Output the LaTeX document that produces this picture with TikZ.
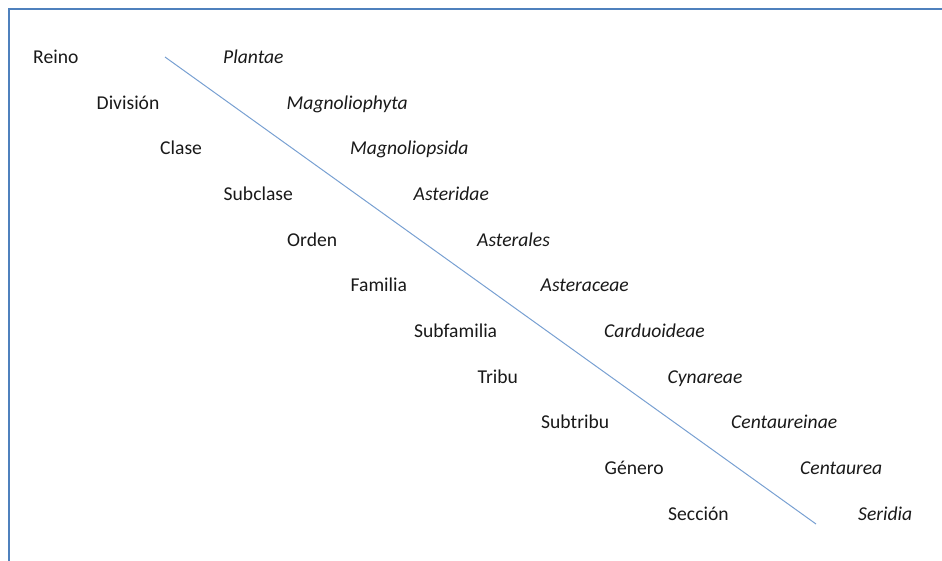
\documentclass[tikz,border=0pt]{standalone}
\usepackage{fontspec}
\setmainfont{Carlito}
\definecolor{framblue}{RGB}{79,129,189}
\definecolor{lineblue}{RGB}{120,160,210}
\tikzset{
  rank/.style={anchor=base west, inner sep=0pt, text=black!90, font=\fontsize{19.6}{23}\selectfont},
  taxon/.style={rank, font=\fontsize{19.6}{23}\selectfont\itshape},
}
\begin{document}
\begin{tikzpicture}[x=1pt,y=-1pt]
\useasboundingbox (0,0) rectangle (942,560);
\draw[framblue, line width=2.2pt] (9,561) -- (9,9) -- (943,9);
\node[rank] (r1) at (33,63) {Reino};
\node[rank] (r2) at (96.5,109) {División};
\node[rank] (r3) at (160,154) {Clase};
\node[rank] (r4) at (223.5,200) {Subclase};
\node[rank] (r5) at (287,246) {Orden};
\node[rank] (r6) at (350.5,291) {Familia};
\node[rank] (r7) at (414,337) {Subfamilia};
\node[rank] (r8) at (477.5,383) {Tribu};
\node[rank] (r9) at (541,428) {Subtribu};
\node[rank] (r10) at (604.5,474) {Género};
\node[rank] (r11) at (668,520) {Sección};
\node[taxon] (t1) at (223,63) {Plantae};
\node[taxon] (t2) at (286.5,109) {Magnoliophyta};
\node[taxon] (t3) at (350,154) {Magnoliopsida};
\node[taxon] (t4) at (413.5,200) {Asteridae};
\node[taxon] (t5) at (477,246) {Asterales};
\node[taxon] (t6) at (540.5,291) {Asteraceae};
\node[taxon] (t7) at (604,337) {Carduoideae};
\node[taxon] (t8) at (667.5,383) {Cynareae};
\node[taxon] (t9) at (731,428) {Centaureinae};
\node[taxon] (t10) at (800,474) {Centaurea};
\node[taxon] (t11) at (858,520) {Seridia};
\coordinate (dstart) at (165,57);
\coordinate (dend) at (816,524);
\draw[lineblue, line width=1pt] (dstart) -- (dend);
\end{tikzpicture}
\end{document}
